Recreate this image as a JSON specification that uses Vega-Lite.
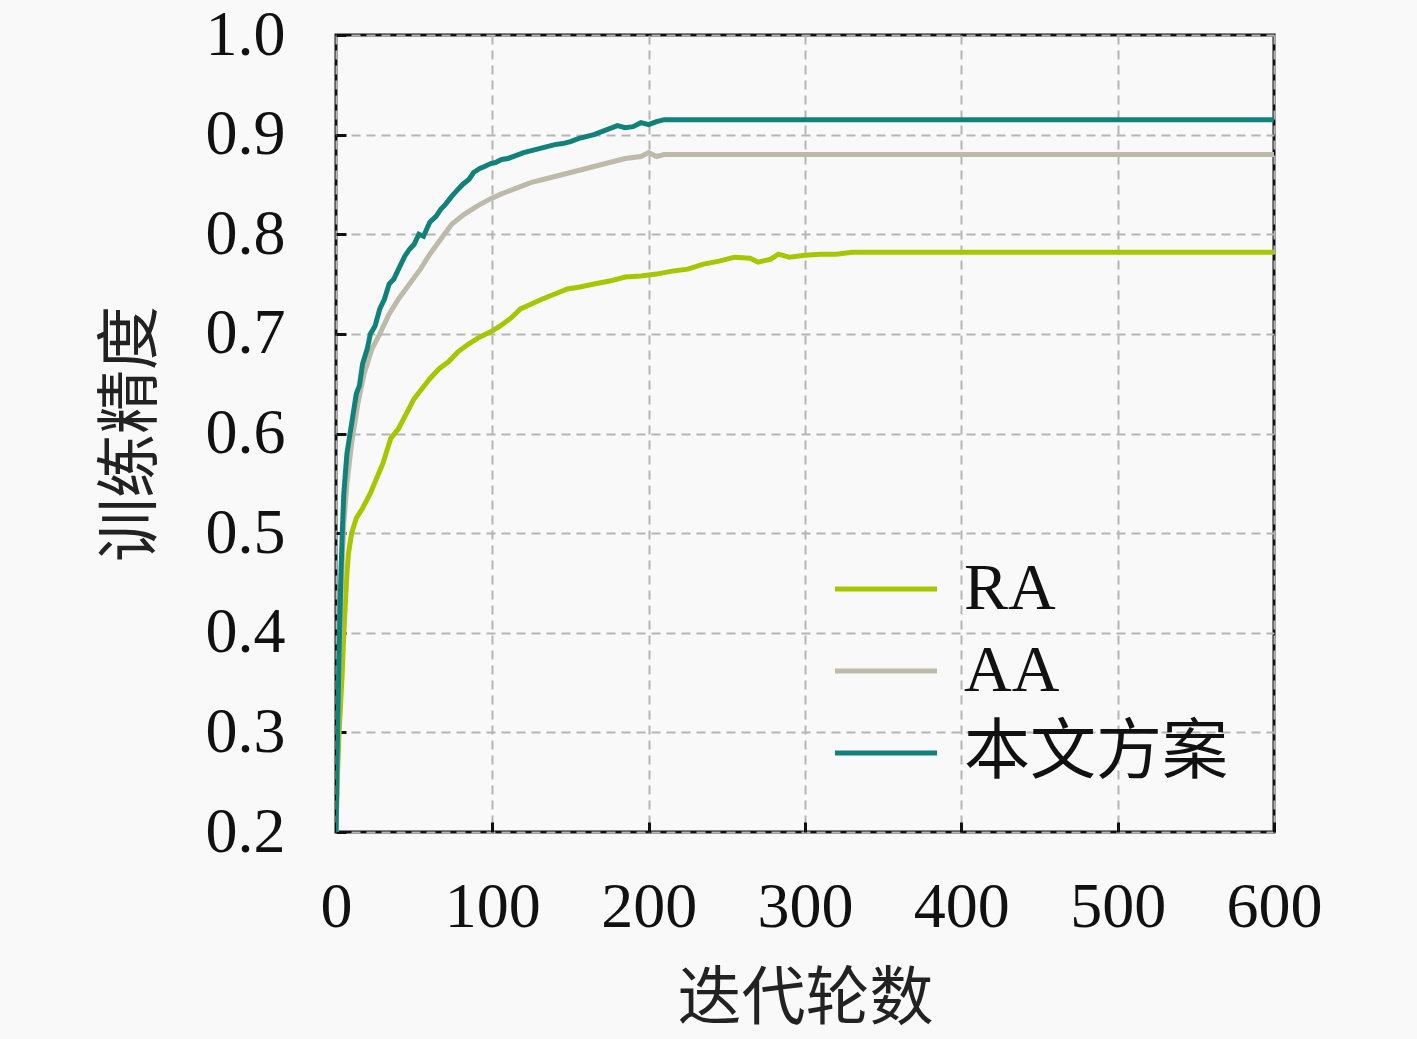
{
  "$schema": "https://vega.github.io/schema/vega-lite/v6.json",
  "width": 938,
  "height": 797,
  "autosize": {"type": "none"},
  "padding": {"left": 336, "top": 35, "right": 143, "bottom": 207},
  "background": "#f9f9f9",
  "config": {
    "view": {"stroke": "#111111", "strokeWidth": 3, "fill": "#f9f9f9"},
    "axis": {
      "labelFont": "Liberation Serif",
      "labelFontSize": 64,
      "labelColor": "#111111",
      "labelFlush": false,
      "labelOverlap": false,
      "labelBound": false,
      "titleFont": "Noto Sans CJK SC",
      "titleFontSize": 64,
      "titleFontWeight": "normal",
      "titleColor": "#222222",
      "domain": false,
      "tickColor": "#111111",
      "tickWidth": 3,
      "tickSize": -10,
      "gridColor": "#b5b5b5",
      "gridWidth": 2,
      "gridDash": [9, 6]
    }
  },
  "data": {
    "values": [
      {"x": 0, "y": 0.2, "s": "RA"}, {"x": 1, "y": 0.26, "s": "RA"}, {"x": 2, "y": 0.3, "s": "RA"},
      {"x": 3, "y": 0.33, "s": "RA"}, {"x": 4, "y": 0.36, "s": "RA"}, {"x": 5, "y": 0.4, "s": "RA"},
      {"x": 6, "y": 0.43, "s": "RA"}, {"x": 7, "y": 0.46, "s": "RA"}, {"x": 8, "y": 0.48, "s": "RA"},
      {"x": 10, "y": 0.5, "s": "RA"}, {"x": 13, "y": 0.515, "s": "RA"}, {"x": 17, "y": 0.525, "s": "RA"},
      {"x": 22, "y": 0.54, "s": "RA"}, {"x": 26, "y": 0.555, "s": "RA"}, {"x": 30, "y": 0.57, "s": "RA"},
      {"x": 35, "y": 0.595, "s": "RA"}, {"x": 40, "y": 0.605, "s": "RA"}, {"x": 45, "y": 0.62, "s": "RA"},
      {"x": 50, "y": 0.635, "s": "RA"}, {"x": 55, "y": 0.645, "s": "RA"}, {"x": 60, "y": 0.655, "s": "RA"},
      {"x": 66, "y": 0.665, "s": "RA"}, {"x": 72, "y": 0.672, "s": "RA"}, {"x": 78, "y": 0.682, "s": "RA"},
      {"x": 85, "y": 0.69, "s": "RA"}, {"x": 92, "y": 0.697, "s": "RA"}, {"x": 99, "y": 0.702, "s": "RA"},
      {"x": 105, "y": 0.708, "s": "RA"}, {"x": 112, "y": 0.716, "s": "RA"}, {"x": 118, "y": 0.725, "s": "RA"},
      {"x": 125, "y": 0.73, "s": "RA"}, {"x": 132, "y": 0.735, "s": "RA"}, {"x": 140, "y": 0.74, "s": "RA"},
      {"x": 148, "y": 0.745, "s": "RA"}, {"x": 156, "y": 0.747, "s": "RA"}, {"x": 165, "y": 0.75, "s": "RA"},
      {"x": 175, "y": 0.753, "s": "RA"}, {"x": 185, "y": 0.757, "s": "RA"}, {"x": 195, "y": 0.758, "s": "RA"},
      {"x": 205, "y": 0.76, "s": "RA"}, {"x": 215, "y": 0.763, "s": "RA"}, {"x": 225, "y": 0.765, "s": "RA"},
      {"x": 235, "y": 0.77, "s": "RA"}, {"x": 245, "y": 0.773, "s": "RA"}, {"x": 255, "y": 0.777, "s": "RA"},
      {"x": 265, "y": 0.776, "s": "RA"}, {"x": 270, "y": 0.772, "s": "RA"}, {"x": 278, "y": 0.775, "s": "RA"},
      {"x": 283, "y": 0.78, "s": "RA"}, {"x": 290, "y": 0.777, "s": "RA"}, {"x": 300, "y": 0.779, "s": "RA"},
      {"x": 310, "y": 0.78, "s": "RA"}, {"x": 320, "y": 0.78, "s": "RA"}, {"x": 330, "y": 0.782, "s": "RA"},
      {"x": 400, "y": 0.782, "s": "RA"}, {"x": 500, "y": 0.782, "s": "RA"}, {"x": 600, "y": 0.782, "s": "RA"},

      {"x": 0, "y": 0.2, "s": "AA"}, {"x": 1, "y": 0.28, "s": "AA"}, {"x": 2, "y": 0.36, "s": "AA"},
      {"x": 3, "y": 0.42, "s": "AA"}, {"x": 4, "y": 0.47, "s": "AA"}, {"x": 5, "y": 0.51, "s": "AA"},
      {"x": 7, "y": 0.55, "s": "AA"}, {"x": 10, "y": 0.59, "s": "AA"}, {"x": 14, "y": 0.63, "s": "AA"},
      {"x": 18, "y": 0.66, "s": "AA"}, {"x": 23, "y": 0.685, "s": "AA"}, {"x": 28, "y": 0.7, "s": "AA"},
      {"x": 34, "y": 0.72, "s": "AA"}, {"x": 40, "y": 0.735, "s": "AA"}, {"x": 47, "y": 0.75, "s": "AA"},
      {"x": 54, "y": 0.765, "s": "AA"}, {"x": 60, "y": 0.78, "s": "AA"}, {"x": 67, "y": 0.795, "s": "AA"},
      {"x": 74, "y": 0.81, "s": "AA"}, {"x": 82, "y": 0.82, "s": "AA"}, {"x": 90, "y": 0.828, "s": "AA"},
      {"x": 98, "y": 0.835, "s": "AA"}, {"x": 105, "y": 0.84, "s": "AA"}, {"x": 115, "y": 0.846, "s": "AA"},
      {"x": 125, "y": 0.852, "s": "AA"}, {"x": 135, "y": 0.856, "s": "AA"}, {"x": 145, "y": 0.86, "s": "AA"},
      {"x": 155, "y": 0.864, "s": "AA"}, {"x": 165, "y": 0.868, "s": "AA"}, {"x": 175, "y": 0.872, "s": "AA"},
      {"x": 185, "y": 0.876, "s": "AA"}, {"x": 195, "y": 0.878, "s": "AA"}, {"x": 200, "y": 0.882, "s": "AA"},
      {"x": 205, "y": 0.878, "s": "AA"}, {"x": 210, "y": 0.88, "s": "AA"}, {"x": 300, "y": 0.88, "s": "AA"},
      {"x": 400, "y": 0.88, "s": "AA"}, {"x": 500, "y": 0.88, "s": "AA"}, {"x": 600, "y": 0.88, "s": "AA"},

      {"x": 0, "y": 0.2, "s": "本文方案"}, {"x": 1, "y": 0.3, "s": "本文方案"}, {"x": 2, "y": 0.38, "s": "本文方案"},
      {"x": 3, "y": 0.45, "s": "本文方案"}, {"x": 4, "y": 0.5, "s": "本文方案"}, {"x": 5, "y": 0.54, "s": "本文方案"},
      {"x": 7, "y": 0.58, "s": "本文方案"}, {"x": 10, "y": 0.61, "s": "本文方案"}, {"x": 13, "y": 0.64, "s": "本文方案"},
      {"x": 15, "y": 0.648, "s": "本文方案"}, {"x": 17, "y": 0.67, "s": "本文方案"}, {"x": 20, "y": 0.685, "s": "本文方案"},
      {"x": 22, "y": 0.7, "s": "本文方案"}, {"x": 25, "y": 0.708, "s": "本文方案"}, {"x": 28, "y": 0.725, "s": "本文方案"},
      {"x": 31, "y": 0.735, "s": "本文方案"}, {"x": 34, "y": 0.75, "s": "本文方案"}, {"x": 37, "y": 0.755, "s": "本文方案"},
      {"x": 40, "y": 0.765, "s": "本文方案"}, {"x": 44, "y": 0.778, "s": "本文方案"}, {"x": 47, "y": 0.785, "s": "本文方案"},
      {"x": 50, "y": 0.79, "s": "本文方案"}, {"x": 53, "y": 0.8, "s": "本文方案"}, {"x": 56, "y": 0.798, "s": "本文方案"},
      {"x": 60, "y": 0.812, "s": "本文方案"}, {"x": 64, "y": 0.818, "s": "本文方案"}, {"x": 67, "y": 0.825, "s": "本文方案"},
      {"x": 70, "y": 0.83, "s": "本文方案"}, {"x": 74, "y": 0.838, "s": "本文方案"}, {"x": 78, "y": 0.845, "s": "本文方案"},
      {"x": 81, "y": 0.85, "s": "本文方案"}, {"x": 85, "y": 0.855, "s": "本文方案"}, {"x": 88, "y": 0.862, "s": "本文方案"},
      {"x": 92, "y": 0.866, "s": "本文方案"}, {"x": 95, "y": 0.868, "s": "本文方案"}, {"x": 99, "y": 0.871, "s": "本文方案"},
      {"x": 102, "y": 0.872, "s": "本文方案"}, {"x": 106, "y": 0.875, "s": "本文方案"}, {"x": 110, "y": 0.876, "s": "本文方案"},
      {"x": 115, "y": 0.879, "s": "本文方案"}, {"x": 120, "y": 0.882, "s": "本文方案"}, {"x": 125, "y": 0.884, "s": "本文方案"},
      {"x": 130, "y": 0.886, "s": "本文方案"}, {"x": 135, "y": 0.888, "s": "本文方案"}, {"x": 140, "y": 0.89, "s": "本文方案"},
      {"x": 145, "y": 0.891, "s": "本文方案"}, {"x": 150, "y": 0.893, "s": "本文方案"}, {"x": 155, "y": 0.896, "s": "本文方案"},
      {"x": 160, "y": 0.898, "s": "本文方案"}, {"x": 165, "y": 0.9, "s": "本文方案"}, {"x": 170, "y": 0.903, "s": "本文方案"},
      {"x": 175, "y": 0.906, "s": "本文方案"}, {"x": 180, "y": 0.909, "s": "本文方案"}, {"x": 185, "y": 0.907, "s": "本文方案"},
      {"x": 190, "y": 0.908, "s": "本文方案"}, {"x": 195, "y": 0.912, "s": "本文方案"}, {"x": 200, "y": 0.91, "s": "本文方案"},
      {"x": 205, "y": 0.913, "s": "本文方案"}, {"x": 210, "y": 0.915, "s": "本文方案"}, {"x": 300, "y": 0.915, "s": "本文方案"},
      {"x": 400, "y": 0.915, "s": "本文方案"}, {"x": 500, "y": 0.915, "s": "本文方案"}, {"x": 600, "y": 0.915, "s": "本文方案"}
    ]
  },
  "mark": {"type": "line", "strokeWidth": 5, "clip": true},
  "encoding": {
    "x": {
      "field": "x",
      "type": "quantitative",
      "title": "迭代轮数",
      "scale": {"domain": [0, 600], "nice": false, "zero": false},
      "axis": {"values": [0, 100, 200, 300, 400, 500, 600], "labelPadding": 53, "titlePadding": 28}
    },
    "y": {
      "field": "y",
      "type": "quantitative",
      "title": "训练精度",
      "scale": {"domain": [0.2, 1.0], "nice": false, "zero": false},
      "axis": {"values": [0.2, 0.3, 0.4, 0.5, 0.6, 0.7, 0.8, 0.9, 1.0], "format": ".1f", "labelPadding": 61, "titlePadding": 42}
    },
    "color": {
      "field": "s",
      "type": "nominal",
      "sort": ["RA", "AA", "本文方案"],
      "scale": {"domain": ["RA", "AA", "本文方案"], "range": ["#a8c600", "#bdbaa8", "#10827a"]},
      "legend": {
        "title": null,
        "orient": "none",
        "legendX": 517,
        "legendY": 521,
        "symbolType": "M-1.7,0H1.7",
        "symbolSize": 3600,
        "symbolStrokeWidth": 5,
        "labelFont": "Liberation Serif, Noto Sans CJK SC",
        "labelFontSize": 66,
        "labelColor": "#111111",
        "labelOffset": 45,
        "rowPadding": 16,
        "labelLimit": 400
      }
    }
  }
}
